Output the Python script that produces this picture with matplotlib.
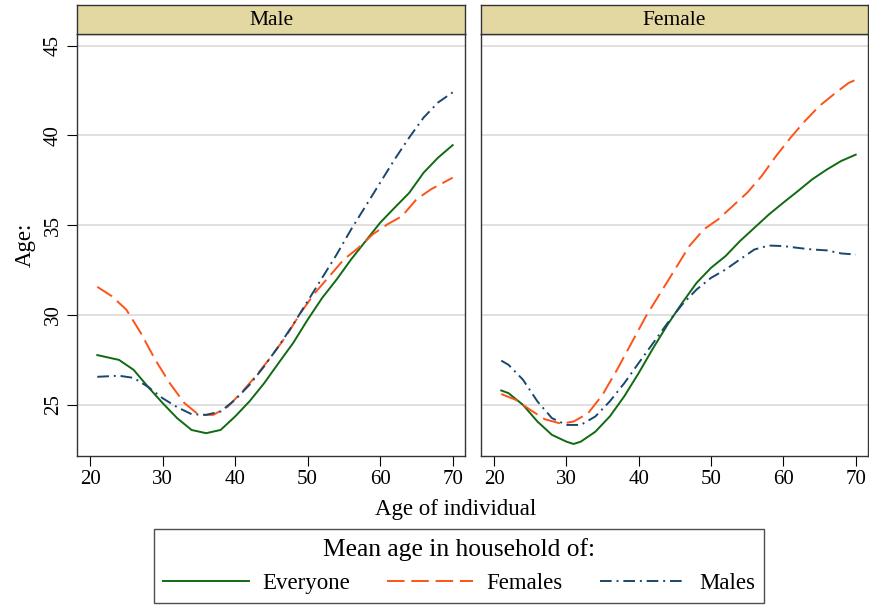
import matplotlib
matplotlib.use("Agg")
import matplotlib.pyplot as plt

# ---- data ----
male_x_all = [21, 24, 26, 28, 30, 32, 34, 36, 38, 40, 42, 44, 46, 48, 50, 52, 54, 56, 58, 60, 62, 64, 66, 68, 70]
male_everyone = [27.77, 27.5, 26.95, 26.0, 25.1, 24.26, 23.6, 23.42, 23.6, 24.35, 25.2, 26.2, 27.33, 28.44,
                 29.74, 30.95, 31.98, 33.1, 34.12, 35.14, 35.98, 36.8, 37.93, 38.77, 39.46]
male_males = [26.56, 26.62, 26.5, 26.0, 25.37, 24.87, 24.48, 24.44, 24.63, 25.28, 26.12, 27.14, 28.26, 29.47,
              30.77, 32.07, 33.37, 34.77, 36.07, 37.37, 38.67, 39.88, 41.0, 41.84, 42.4]
male_x_fem = [21, 23, 25, 27, 29, 31, 33, 35, 37, 39, 41, 43, 45, 47, 49, 51, 53, 55, 57, 59, 61, 63, 65, 67, 70]
male_females = [31.57, 31.05, 30.3, 29.0, 27.5, 26.2, 25.1, 24.44, 24.44, 24.9, 25.74, 26.67, 27.7, 28.8,
                30.1, 31.23, 32.16, 33.1, 33.74, 34.5, 35.05, 35.5, 36.44, 37.0, 37.65]

fem_x_all = [21, 22, 24, 26, 28, 30, 31, 32, 34, 36, 38, 40, 42, 44, 46, 48, 50, 52, 54, 56, 58, 60, 62, 64, 66, 68, 70]
fem_everyone = [25.8, 25.65, 25.0, 24.07, 23.33, 22.95, 22.82, 22.95, 23.5, 24.35, 25.47, 26.77, 28.16, 29.47,
                30.67, 31.79, 32.63, 33.28, 34.12, 34.86, 35.6, 36.26, 36.9, 37.56, 38.1, 38.58, 38.93]
fem_x_m = [21, 22, 24, 26, 28, 30, 32, 34, 36, 38, 40, 42, 44, 46, 48, 50, 52, 54, 56, 58, 60, 62, 64, 66, 68, 70]
fem_males = [27.46, 27.23, 26.4, 25.19, 24.26, 23.88, 23.88, 24.35, 25.19, 26.2, 27.33, 28.44, 29.56, 30.58,
             31.42, 32.07, 32.53, 33.1, 33.65, 33.87, 33.84, 33.74, 33.65, 33.6, 33.43, 33.37]
fem_x_fem = [21, 23, 25, 27, 29, 30, 31, 33, 35, 37, 39, 41, 43, 45, 47, 49, 51, 53, 55, 57, 59, 61, 63, 65, 67, 69, 70]
fem_females = [25.6, 25.28, 24.72, 24.2, 23.98, 24.0, 24.07, 24.53, 25.56, 26.95, 28.44, 29.93, 31.23, 32.53,
               33.84, 34.77, 35.33, 36.07, 36.81, 37.74, 38.86, 39.88, 40.81, 41.65, 42.3, 42.92, 43.1]

panels = ["Male", "Female"]
x_ticks = [20, 30, 40, 50, 60, 70]
y_ticks = [25, 30, 35, 40, 45]
series_names = ["Everyone", "Females", "Males"]

GREEN, ORANGE, BLUE = "#0f6a12", "#fc5418", "#1a476f"
STRIP = "#e3d8a2"
plt.rcParams["font.family"] = ["Liberation Serif", "DejaVu Serif"]

fig = plt.figure(figsize=(8.69, 6.08), dpi=100)
W, H = 869, 608


def px_axes(x0, y0, x1, y1):
    return fig.add_axes([x0 / W, 1 - y1 / H, (x1 - x0) / W, (y1 - y0) / H])


data = {
    "Male": [(male_x_all, male_everyone), (male_x_fem, male_females), (male_x_all, male_males)],
    "Female": [(fem_x_all, fem_everyone), (fem_x_fem, fem_females), (fem_x_m, fem_males)],
}
styles = [dict(color=GREEN, ls="-"),
          dict(color=ORANGE, ls=(0, (9, 3.5))),
          dict(color=BLUE, ls=(0, (6, 2.5, 1, 2.5)))]

bounds = {"Male": (77, 465), "Female": (481, 868)}
handles = []
for i, name in enumerate(panels):
    x0, x1 = bounds[name]
    ax = px_axes(x0, 34, x1, 456)
    for (xs, ys), st, lab in zip(data[name], styles, series_names):
        h, = ax.plot(xs, ys, lw=1.4, label=lab, **st)
        if i == 0:
            handles.append(h)
    ax.set_xlim(18.2, 71.7)
    ax.set_ylim(22.15, 45.65)
    ax.set_xticks(x_ticks)
    ax.set_yticks(y_ticks)
    ax.grid(axis="y", color="#dadada", lw=1.2)
    ax.set_axisbelow(True)
    ax.tick_params(axis="x", direction="out", length=7, labelsize=15, pad=3)
    if i == 0:
        ax.tick_params(axis="y", direction="out", length=7, labelsize=15, pad=3)
        for t in ax.get_yticklabels():
            t.set_rotation(90)
            t.set_va("center")
        ax.set_ylabel("Age:", fontsize=16.5, labelpad=6)
    else:
        ax.tick_params(axis="y", length=0, labelleft=False)
    for sp in ax.spines.values():
        sp.set_color("#333333")
        sp.set_linewidth(1.0)

    st_ax = px_axes(x0, 5, x1, 34)
    st_ax.set_facecolor(STRIP)
    st_ax.set_xticks([])
    st_ax.set_yticks([])
    for sp in st_ax.spines.values():
        sp.set_color("#333333")
        sp.set_linewidth(1.0)
    st_ax.text(0.5, 0.45, name, ha="center", va="center", fontsize=15.5, transform=st_ax.transAxes)

fig.text(456 / W, 1 - 510 / H, "Age of individual", ha="center", va="center", fontsize=16.5)

leg = fig.legend(handles, series_names, loc="center", bbox_to_anchor=(459 / W, 1 - 566 / H),
                 ncol=3, title="Mean age in household of:", title_fontsize=18.4, fontsize=16.5,
                 frameon=True, fancybox=False, edgecolor="#222222", handlelength=3.75,
                 columnspacing=1.6, handletextpad=0.6, borderpad=0.4, labelspacing=0.55)
leg.get_frame().set_linewidth(1.0)

fig.savefig("out.png", dpi=100)
